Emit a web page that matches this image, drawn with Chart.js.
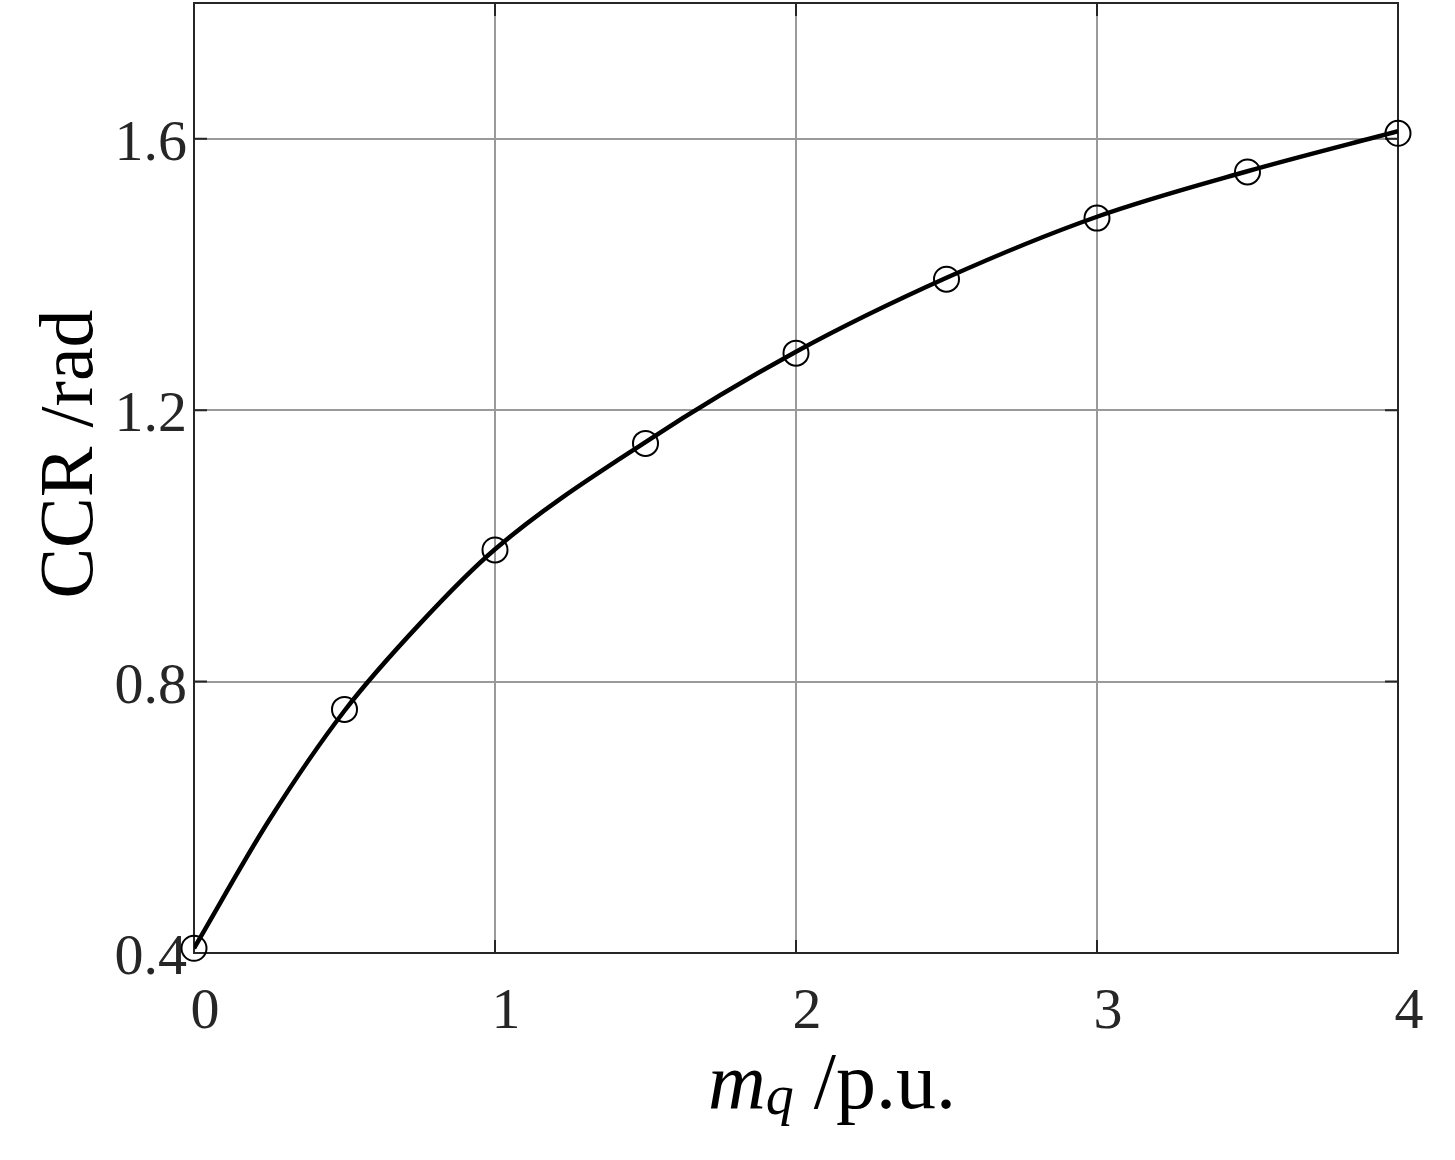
<!DOCTYPE html>
<html>
<head>
<meta charset="utf-8">
<script src="https://cdn.jsdelivr.net/npm/chart.js@4.4.1/dist/chart.umd.min.js"></script>
<style>
  html, body { margin: 0; padding: 0; background: #fff; }
</style>
</head>
<body>
<canvas id="ccr" width="1455" height="1160"></canvas>
<script>
// values
const mqMarkers = [0, 0.5, 1, 1.5, 2, 2.5, 3, 3.5, 4];
const ccrMarkers = [0.407, 0.759, 0.994, 1.151, 1.284, 1.393, 1.483, 1.551, 1.608];
const mqCurve = [0, 0.25, 0.5, 0.75, 1, 1.5, 2, 2.5, 3, 3.5, 4];
const ccrCurve = [0.407, 0.596, 0.757, 0.885, 0.995, 1.153, 1.286, 1.395, 1.485, 1.552, 1.611];
const xTicks = [0, 1, 2, 3, 4];
const yTicks = [0.4, 0.8, 1.2, 1.6];

const SERIF = '"Liberation Serif", "Times New Roman", serif';
const AXIS_COLOR = "#262626";

// frame + inward tick marks like the matlab box
const framePlugin = {
  id: "frame",
  beforeDatasetsDraw(chart) {
    const { ctx, chartArea: a, scales } = chart;
    const len = 13;
    ctx.save();
    ctx.strokeStyle = AXIS_COLOR;
    ctx.lineWidth = 2;
    ctx.beginPath();
    xTicks.forEach((v) => {
      const px = scales.x.getPixelForValue(v);
      ctx.moveTo(px, a.bottom);
      ctx.lineTo(px, a.bottom - len);
      ctx.moveTo(px, a.top);
      ctx.lineTo(px, a.top + len);
    });
    yTicks.forEach((v) => {
      const py = scales.y.getPixelForValue(v);
      ctx.moveTo(a.left, py);
      ctx.lineTo(a.left + len, py);
      ctx.moveTo(a.right, py);
      ctx.lineTo(a.right - len, py);
    });
    ctx.stroke();
    ctx.strokeRect(a.left, a.top, a.right - a.left, a.bottom - a.top);
    ctx.restore();
  },
  afterDraw(chart) {
    const { ctx } = chart;
    ctx.save();
    ctx.fillStyle = "#000";

    // y title
    ctx.font = "76px " + SERIF;
    ctx.textAlign = "center";
    ctx.textBaseline = "alphabetic";
    ctx.translate(92, 454);
    ctx.rotate(-Math.PI / 2);
    ctx.fillText("CCR /rad", 0, 0);
    ctx.setTransform(1, 0, 0, 1, 0, 0);

    // x title: m_q /p.u.
    ctx.textAlign = "left";
    let x = 708;
    const base = 1108;
    ctx.font = "italic 80px " + SERIF;
    ctx.fillText("m", x, base);
    x += ctx.measureText("m").width;
    ctx.font = "italic 56px " + SERIF;
    ctx.fillText("q", x, base + 6);
    x += ctx.measureText("q").width;
    ctx.font = "80px " + SERIF;
    ctx.fillText(" /p.u.", x, base);
    ctx.restore();
  },
};

const tickFont = { family: SERIF, size: 58 };

new Chart(document.getElementById("ccr"), {
  type: "line",
  data: {
    datasets: [
      {
        label: "fit",
        data: mqCurve.map((m, i) => ({ x: m, y: ccrCurve[i] })),
        borderColor: "#000",
        borderWidth: 4.5,
        pointRadius: 0,
        cubicInterpolationMode: "monotone",
        fill: false,
      },
      {
        label: "points",
        data: mqMarkers.map((m, i) => ({ x: m, y: ccrMarkers[i] })),
        showLine: false,
        pointRadius: 12.5,
        pointBorderWidth: 2,
        pointBorderColor: "#000",
        pointBackgroundColor: "rgba(0,0,0,0)",
        clip: false,
      },
    ],
  },
  options: {
    responsive: false,
    devicePixelRatio: 1,
    animation: false,
    layout: { autoPadding: false, padding: { left: 0, top: 3, right: 57, bottom: 0 } },
    plugins: {
      legend: { display: false },
      tooltip: { enabled: false },
    },
    scales: {
      x: {
        type: "linear",
        min: 0,
        max: 4,
        afterBuildTicks: (s) => {
          s.ticks = xTicks.map((v) => ({ value: v }));
        },
        afterFit: (s) => {
          s.height = 207;
          s.paddingLeft = 0;
          s.paddingRight = 0;
        },
        grid: { color: "#9a9a9a", lineWidth: 2, drawTicks: false },
        border: { display: false },
        ticks: {
          font: tickFont,
          color: AXIS_COLOR,
          padding: 25,
          labelOffset: 11,
          maxRotation: 0,
          autoSkip: false,
          callback: (v) => String(v),
        },
      },
      y: {
        type: "linear",
        min: 0.4,
        max: 1.8,
        afterBuildTicks: (s) => {
          s.ticks = yTicks.map((v) => ({ value: v }));
        },
        afterFit: (s) => {
          s.width = 194;
          s.paddingTop = 0;
          s.paddingBottom = 0;
        },
        grid: { color: "#9a9a9a", lineWidth: 2, drawTicks: false },
        border: { display: false },
        ticks: {
          font: tickFont,
          color: AXIS_COLOR,
          padding: 7,
          labelOffset: 6,
          autoSkip: false,
          callback: (v) => v.toFixed(1),
        },
      },
    },
  },
  plugins: [framePlugin],
});
</script>
</body>
</html>
